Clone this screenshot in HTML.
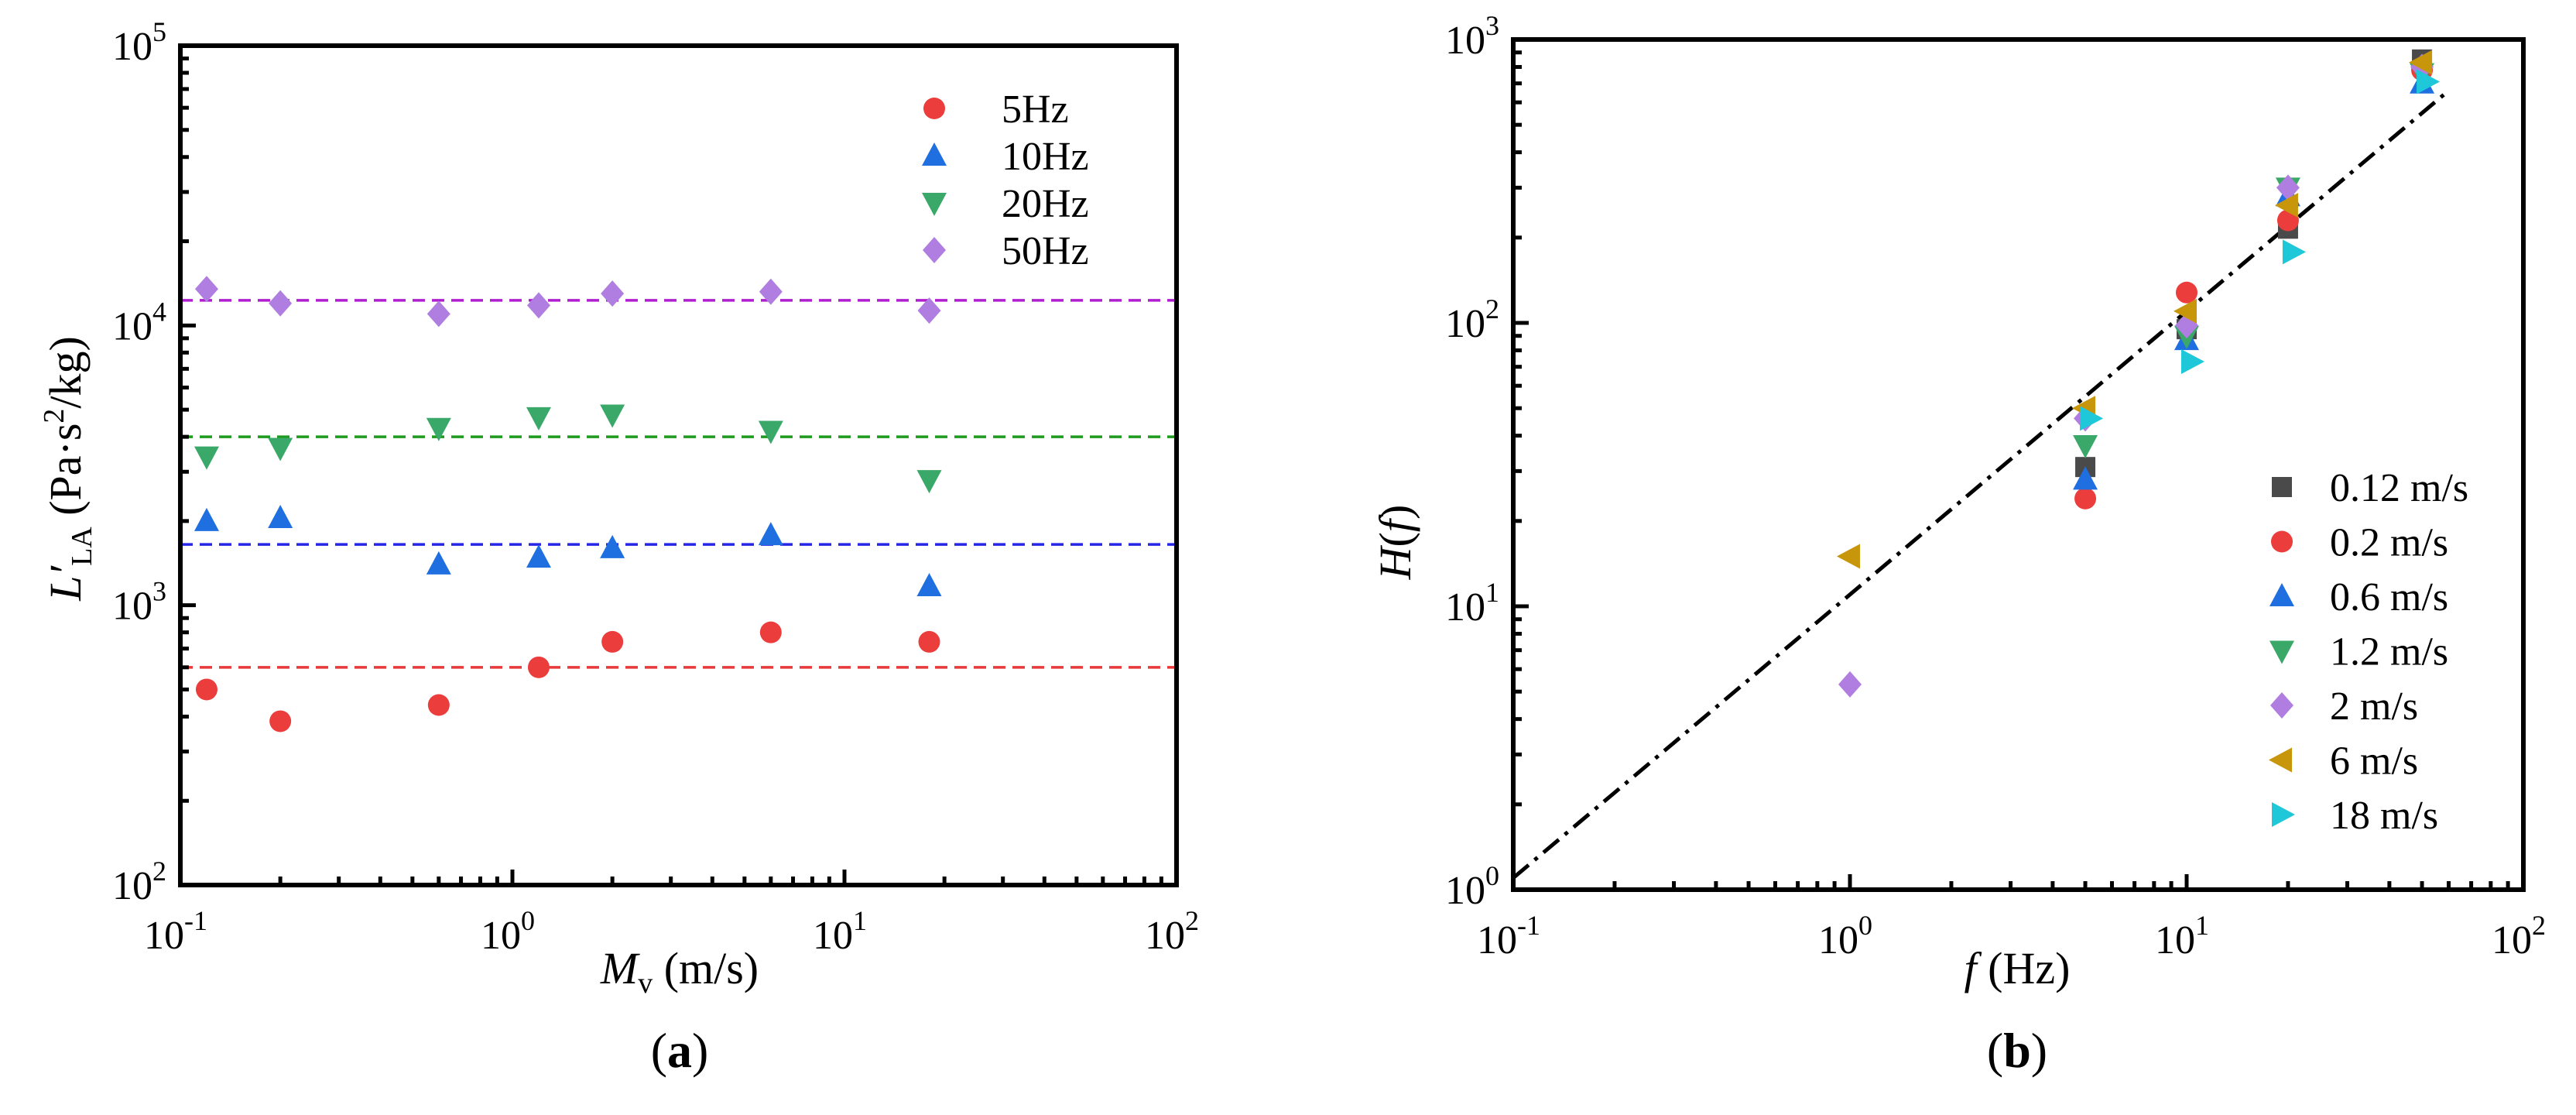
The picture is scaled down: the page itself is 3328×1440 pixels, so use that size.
<!DOCTYPE html>
<html><head><meta charset="utf-8"><style>
html,body{margin:0;padding:0;background:#fff;}
svg, svg text, svg tspan{font-family:"Liberation Serif","Times New Roman",serif;}
</style></head><body>
<svg id="fig" width="3328" height="1435" viewBox="0 0 3328 1435" font-family="Liberation Serif, serif"></svg>
<script>
// ---- Panel (a) data ----
const speedsA = [0.12, 0.2, 0.6, 1.2, 2, 6, 18];
const val5Hz  = [500, 385, 440, 600, 740, 800, 740];
const val10Hz = [2000, 2050, 1400, 1480, 1600, 1780, 1170];
const val20Hz = [3400, 3650, 4300, 4700, 4800, 4200, 2800];
const val50Hz = [13500, 12000, 11000, 11800, 13000, 13200, 11300];
const meanA   = [600, 1650, 4000, 12300];
const labelsA = ["5Hz", "10Hz", "20Hz", "50Hz"];
// ---- Panel (b) data ----
const freqB = [5, 10, 20, 50];
const freqB2 = [1, 5, 10, 20, 50];
const h012 = [31, 95, 215, 850];
const h02  = [24, 128, 230, 780];
const h06  = [28, 87, 280, 700];
const h12  = [37, 90, 300, 760];
const h2   = [5.3, 46, 98, 300, 800];
const h6   = [15, 50, 110, 260, 830];
const h18  = [46, 73, 178, 710];
const labelsB = ["0.12 m/s", "0.2 m/s", "0.6 m/s", "1.2 m/s", "2 m/s", "6 m/s", "18 m/s"];
const fitX = [0.1, 60];
const fitCoef = 11;

const NS = "http://www.w3.org/2000/svg";
const svg = document.getElementById("fig");
const FF = "Liberation Serif, serif";
function el(tag, attrs, parent, text) {
  const e = document.createElementNS(NS, tag);
  for (const k in attrs) e.setAttribute(k, attrs[k]);
  if (tag === "text") e.setAttribute("font-family", FF);
  if (text !== undefined) e.textContent = text;
  (parent || svg).appendChild(e);
  return e;
}
function logScale(d0, d1, r0, r1) {
  const a = Math.log10(d0), b = Math.log10(d1);
  return v => r0 + (Math.log10(v) - a) / (b - a) * (r1 - r0);
}
function marker(g, type, x, y, color) {
  let m;
  const s = 15;
  if (type === "circle") m = el("circle", {cx: x, cy: y, r: 14, fill: color}, g);
  else if (type === "square") m = el("rect", {x: x - 13, y: y - 13, width: 26, height: 26, fill: color}, g);
  else if (type === "up") m = el("polygon", {points: `${x},${y-s-2} ${x+s+1},${y+s-2} ${x-s-1},${y+s-2}`, fill: color}, g);
  else if (type === "down") m = el("polygon", {points: `${x},${y+s+2} ${x+s+1},${y-s+2} ${x-s-1},${y-s+2}`, fill: color}, g);
  else if (type === "diamond") m = el("polygon", {points: `${x},${y-17} ${x+15},${y} ${x},${y+17} ${x-15},${y}`, fill: color}, g);
  else if (type === "left") m = el("polygon", {points: `${x-s-2},${y} ${x+s-2},${y-s-1} ${x+s-2},${y+s+1}`, fill: color}, g);
  else if (type === "right") m = el("polygon", {points: `${x+s+2},${y} ${x-s+2},${y-s-1} ${x-s+2},${y+s+1}`, fill: color}, g);
  
  
  return m;
}
function axes(g, L, R, T, B, xd, yd, xs, ys) {
  for (let e = Math.log10(xd[0]); e <= Math.log10(xd[1]); e++) {
    for (let k = 1; k <= 9; k++) {
      const v = k * Math.pow(10, e);
      if (v > xd[1] * 1.0001) break;
      const x = xs(v);
      const len = k === 1 ? 20 : 11;
      if (x > L + 2 && x < R - 2) el("line", {x1: x, y1: B, x2: x, y2: B - len, stroke: "#000", "stroke-width": 5}, g);
      if (k === 1) {
        const t = el("text", {x: x - 6, y: B + 82, "font-size": 52, "text-anchor": "middle", fill: "#000"}, g);
        
        
        el("tspan", {}, t, "10");
        el("tspan", {dy: -24, "font-size": 36}, t, String(e));
      }
    }
  }
  for (let e = Math.log10(yd[0]); e <= Math.log10(yd[1]); e++) {
    for (let k = 1; k <= 9; k++) {
      const v = k * Math.pow(10, e);
      if (v > yd[1] * 1.0001) break;
      const y = ys(v);
      const len = k === 1 ? 20 : 11;
      if (y > T + 2 && y < B - 2) el("line", {x1: L, y1: y, x2: L + len, y2: y, stroke: "#000", "stroke-width": 5}, g);
      if (k === 1) {
        const t = el("text", {x: L - 18, y: y + 18, "font-size": 52, "text-anchor": "end", fill: "#000"}, g);
        
        
        el("tspan", {}, t, "10");
        el("tspan", {dy: -24, "font-size": 36}, t, String(e));
      }
    }
  }
  const fr = el("rect", {x: L, y: T, width: R - L, height: B - T, fill: "none", stroke: "#000", "stroke-width": 6}, g);
  
  
}

// ---------- Panel (a) ----------
const gA = el("g", {});


const aL = 233, aR = 1520, aT = 59, aB = 1143;
const xA = logScale(0.1, 100, aL, aR);
const yA = logScale(100, 100000, aB, aT);
const meanColors = ["#e83a3a", "#2626e6", "#1e9a1e", "#b01ed0"];
meanA.forEach((v, i) => {
  const ln = el("line", {x1: aL, x2: aR, y1: yA(v), y2: yA(v), stroke: meanColors[i], "stroke-width": 3.5, "stroke-dasharray": "16 9"}, gA);
  
  
});
const seriesA = [[val5Hz, "circle", "#ec3d3d"], [val10Hz, "up", "#1f6fe0"], [val20Hz, "down", "#3aa868"], [val50Hz, "diamond", "#b07ee0"]];
seriesA.forEach(([vals, type, col], i) => {
  const g = el("g", {}, gA);
  
  
  vals.forEach((v, j) => marker(g, type, xA(speedsA[j]), yA(v), col));
  const ly = 140 + i * 61;
  const lg = el("g", {}, gA);
  
  
  marker(lg, type, 1207, ly, col);
  el("text", {x: 1294, y: ly + 18, "font-size": 52}, lg, labelsA[i]);
});
axes(gA, aL, aR, aT, aB, [0.1, 100], [100, 100000], xA, yA);
let t = el("text", {x: 878, y: 1270, "font-size": 58, "text-anchor": "middle"}, gA);


el("tspan", {"font-style": "italic"}, t, "M");
el("tspan", {dy: 12, "font-size": 38}, t, "v");
el("tspan", {dy: -12}, t, " (m/s)");
t = el("text", {x: 0, y: 0, "font-size": 58, "text-anchor": "middle", transform: "translate(104,605) rotate(-90)"}, gA);


el("tspan", {"font-style": "italic"}, t, "L′");
el("tspan", {dy: 14, "font-size": 38}, t, "LA");
el("tspan", {dy: -14}, t, " (Pa·s");
el("tspan", {dy: -22, "font-size": 38}, t, "2");
el("tspan", {dy: 22}, t, "/kg)");
t = el("text", {x: 878, y: 1378, "font-size": 64, "text-anchor": "middle"}, gA);


el("tspan", {}, t, "(");
el("tspan", {"font-weight": "bold"}, t, "a");
el("tspan", {}, t, ")");

// ---------- Panel (b) ----------
const gB = el("g", {});


const bL = 1955, bR = 3260, bT = 51, bB = 1149;
const xB = logScale(0.1, 100, bL, bR);
const yB = logScale(1, 1000, bB, bT);
const fit = el("line", {x1: xB(fitX[0]), y1: yB(fitCoef * fitX[0]), x2: xB(fitX[1]), y2: yB(fitCoef * fitX[1]), stroke: "#000", "stroke-width": 5, "stroke-dasharray": "26 10 5 10"}, gB);


const seriesB = [
  [freqB, h012, "square", "#4a4a4a", 0],
  [freqB, h02, "circle", "#ec3d3d", 0],
  [freqB, h06, "up", "#1f6fe0", 0],
  [freqB, h12, "down", "#3aa868", 0],
  [freqB2, h2, "diamond", "#b07ee0", 0],
  [freqB2, h6, "left", "#c8960a", 0],
  [freqB, h18, "right", "#1ec8d8", 6]
];
seriesB.forEach(([xs, vals, type, col, dx], i) => {
  const g = el("g", {}, gB);
  
  
  vals.forEach((v, j) => marker(g, type, xB(xs[j]) + dx, yB(v), col));
  const ly = 629 + i * 70.5;
  const lg = el("g", {}, gB);
  
  
  marker(lg, type, 2948, ly, col);
  el("text", {x: 3010, y: ly + 18, "font-size": 52}, lg, labelsB[i]);
});
axes(gB, bL, bR, bT, bB, [0.1, 100], [1, 1000], xB, yB);
t = el("text", {x: 2606, y: 1270, "font-size": 58, "text-anchor": "middle"}, gB);


el("tspan", {"font-style": "italic"}, t, "f");
el("tspan", {}, t, " (Hz)");
t = el("text", {x: 0, y: 0, "font-size": 58, "text-anchor": "middle", transform: "translate(1822,700) rotate(-90)"}, gB);


el("tspan", {"font-style": "italic"}, t, "H");
el("tspan", {}, t, "(");
el("tspan", {"font-style": "italic"}, t, "f");
el("tspan", {}, t, ")");
t = el("text", {x: 2606, y: 1378, "font-size": 64, "text-anchor": "middle"}, gB);


el("tspan", {}, t, "(");
el("tspan", {"font-weight": "bold"}, t, "b");
el("tspan", {}, t, ")");
</script>
</body></html>
